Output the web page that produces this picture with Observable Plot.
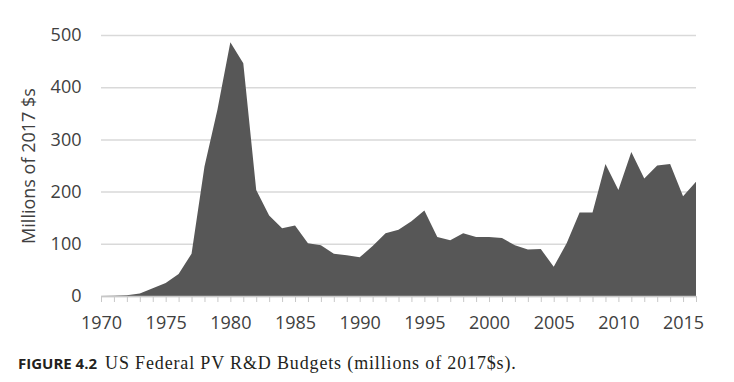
<!DOCTYPE html>
<html>
<head>
<meta charset="utf-8">
<script src="https://cdn.jsdelivr.net/npm/d3@7"></script>
<script src="https://cdn.jsdelivr.net/npm/@observablehq/plot@0.6"></script>
<style>
  html, body { margin: 0; padding: 0; background: #fff; overflow: hidden; }
  #chart { width: 734px; height: 340px; }
  .caption { position: absolute; left: 18px; top: 352px; line-height: 22px; white-space: nowrap; }
  .caption .fig { font-family: "Open Sans", sans-serif; font-weight: 700; font-size: 15px; color: #231f20; }
  .caption .txt { font-family: "Liberation Serif", "Times New Roman", serif; font-size: 18px; letter-spacing: 0.85px; color: #231f20; margin-left: 4px; }
</style>
</head>
<body>
<div id="chart"></div>
<div class="caption"><span class="fig">FIGURE 4.2</span> <span class="txt">US Federal PV R&amp;D Budgets (millions of 2017$s).</span></div>
<script>
const years = [1970,1971,1972,1973,1974,1975,1976,1977,1978,1979,1980,1981,1982,1983,1984,1985,1986,1987,1988,1989,1990,1991,1992,1993,1994,1995,1996,1997,1998,1999,2000,2001,2002,2003,2004,2005,2006,2007,2008,2009,2010,2011,2012,2013,2014,2015,2016];
const budgets = [0,0.5,1.5,5,15,25,42,81,248,357,486,446,203,154,130,135,101,97,81,78,74,96,120,127,143,164,113,107,120,113,113,111,97,89,90,56,101,160,160,253,203,276,225,250,253,191,219];
const yTicks = [0,100,200,300,400,500];
const xLabelTicks = [1970,1975,1980,1985,1990,1995,2000,2005,2010,2015];
const yLabel = "Millions of 2017 $s";

const data = years.map((y, i) => ({year: y, value: budgets[i]}));

const chart = Plot.plot({
  width: 734,
  height: 340,
  marginTop: 35,
  marginBottom: 44,
  marginLeft: 101,
  marginRight: 38,
  style: {fontFamily: "'Open Sans', sans-serif", fontSize: "18px", color: "#404040", background: "#fff"},
  x: {domain: [1970, 2016]},
  y: {domain: [0, 500]},
  marks: [
    Plot.gridY(yTicks, {stroke: "#d9d9d9", strokeOpacity: 1, strokeWidth: 1.5}),
    Plot.areaY(data, {x: "year", y: "value", fill: "#575757"}),
    Plot.ruleY([0], {stroke: "#c8c8c8", strokeWidth: 1.5}),
    Plot.axisX(years, {tickSize: 6, tickFormat: () => "", stroke: "#c8c8c8", label: null}),
    Plot.axisX(xLabelTicks, {tickSize: 0, tickPadding: 20, tickFormat: d => String(d), label: null, fill: "#404040", fontSize: 18}),
    Plot.axisY(yTicks, {tickSize: 0, tickPadding: 20, label: yLabel, labelAnchor: "center", labelArrow: "none", labelOffset: 79, fill: "#404040", fontSize: 18})
  ]
});
document.getElementById("chart").appendChild(chart);
</script>
</body>
</html>
